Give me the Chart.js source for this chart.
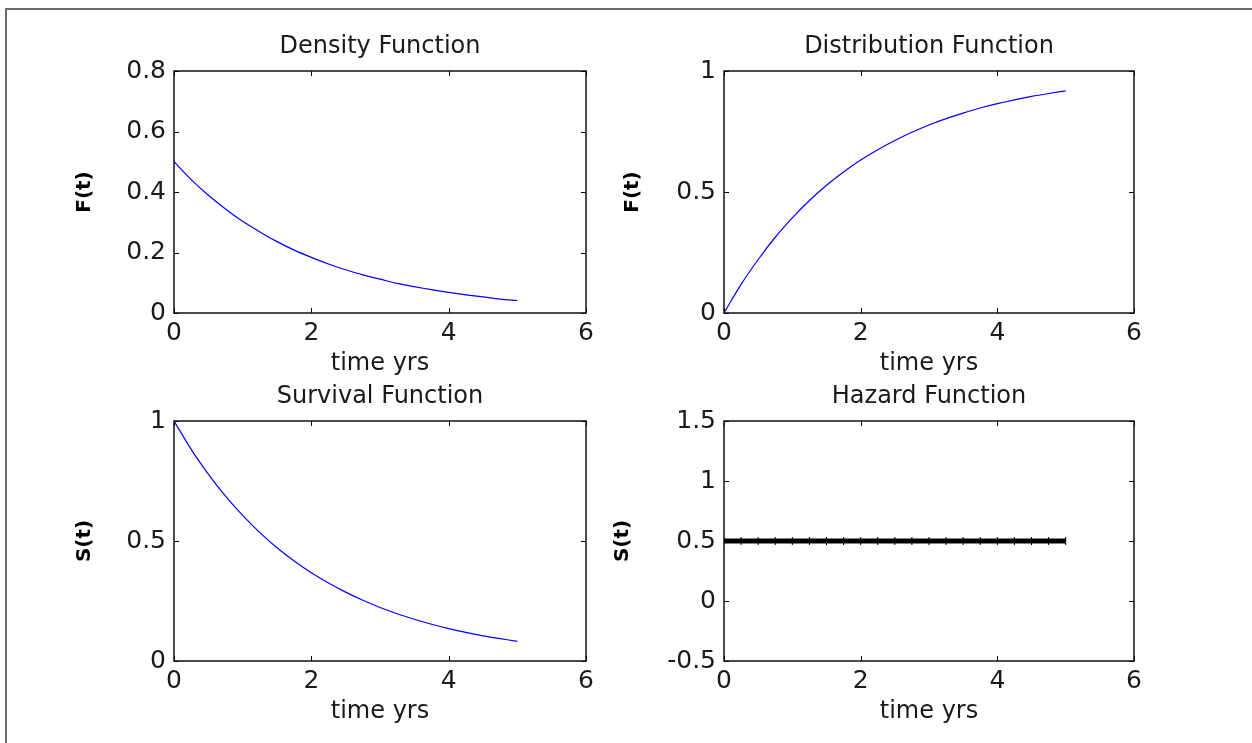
<!DOCTYPE html>
<html>
<head>
<meta charset="utf-8">
<script src="https://cdn.jsdelivr.net/npm/chart.js@4/dist/chart.umd.min.js"></script>
<style>
  html, body { margin:0; padding:0; background:#fff; overflow:hidden; }
  body { width:1252px; height:743px; position:relative; }
  #frame { position:absolute; left:5px; top:8px; width:1260px; height:760px;
           border-top:2px solid #6e6e6e; border-left:2px solid #6e6e6e; }
  canvas { position:absolute; }
</style>
</head>
<body>
<div id="frame"></div>
<canvas id="c1" width="652" height="367" style="left:54px;top:21px"></canvas>
<canvas id="c2" width="650" height="367" style="left:604px;top:21px"></canvas>
<canvas id="c3" width="652" height="365" style="left:54px;top:371px"></canvas>
<canvas id="c4" width="650" height="365" style="left:604px;top:371px"></canvas>
<script>
// ---- data ----
const timeYrs = [0,0.25,0.5,0.75,1,1.25,1.5,1.75,2,2.25,2.5,2.75,3,3.25,3.5,3.75,4,4.25,4.5,4.75,5];
const densityVals = [0.5,0.441,0.389,0.344,0.303,0.268,0.236,0.208,0.184,0.162,0.143,0.126,0.112,0.098,0.087,0.077,0.068,0.060,0.053,0.046,0.041];
const distributionVals = [0,0.118,0.221,0.313,0.393,0.465,0.528,0.583,0.632,0.675,0.713,0.747,0.777,0.803,0.826,0.847,0.865,0.881,0.895,0.907,0.918];
const survivalVals = [1,0.882,0.779,0.687,0.607,0.535,0.472,0.417,0.368,0.325,0.287,0.253,0.223,0.197,0.174,0.153,0.135,0.119,0.105,0.093,0.082];
const hazardVals = [0.5,0.5,0.5,0.5,0.5,0.5,0.5,0.5,0.5,0.5,0.5,0.5,0.5,0.5,0.5,0.5,0.5,0.5,0.5,0.5,0.5];
const xTicks = [0,2,4,6];
const densityTicks = [0,0.2,0.4,0.6,0.8];
const distTicks = [0,0.5,1];
const survTicks = [0,0.5,1];
const hazardTicks = [-0.5,0,0.5,1,1.5];
const titles = ['Density Function','Distribution Function','Survival Function','Hazard Function'];
const yLabels = ['F(t)','F(t)','S(t)','S(t)'];
const xLabel = 'time yrs';

Chart.defaults.font.family = '"DejaVu Sans", "Liberation Sans", Arial, sans-serif';
Chart.defaults.color = '#1a1a1a';

const frameTicks = {
  id: 'frameTicks',
  afterDatasetsDraw(chart) {
    const {ctx, chartArea:{left, top, right, bottom}, scales:{x, y}} = chart;
    ctx.save();
    ctx.strokeStyle = '#000';
    ctx.lineWidth = 1;
    ctx.beginPath();
    x.ticks.forEach(t => {
      const px = Math.round(x.getPixelForValue(t.value)) + 0.5;
      ctx.moveTo(px, bottom); ctx.lineTo(px, bottom - 5);
      ctx.moveTo(px, top); ctx.lineTo(px, top + 5);
    });
    y.ticks.forEach(t => {
      const py = Math.round(y.getPixelForValue(t.value)) + 0.5;
      ctx.moveTo(left, py); ctx.lineTo(left + 5, py);
      ctx.moveTo(right, py); ctx.lineTo(right - 5, py);
    });
    ctx.stroke();
    ctx.lineWidth = 1.5;
    ctx.strokeStyle = '#111';
    ctx.strokeRect(left, top, right - left, bottom - top);
    ctx.restore();
  }
};

function makeChart(id, idx, values, yTicks, color, lineW, ylabPad, pointOpts) {
  const ymin = yTicks[0], ymax = yTicks[yTicks.length - 1];
  return new Chart(document.getElementById(id), {
    type: 'line',
    data: {
      datasets: [{
        data: timeYrs.map((t, i) => ({x: t, y: values[i]})),
        borderColor: color,
        backgroundColor: color,
        borderWidth: lineW,
        tension: 0.3,
        fill: false,
        yAxisID: 'y',
        ...pointOpts
      }]
    },
    options: {
      responsive: false,
      animation: false,
      layout: { padding: 0 },
      plugins: {
        legend: { display: false },
        tooltip: { enabled: false },
        title: {
          display: true,
          text: titles[idx],
          color: '#1a1a1a',
          font: { size: 24, weight: 'normal', lineHeight: 1.2 },
          padding: { top: 11.5, bottom: 9.7 }
        }
      },
      scales: {
        x: {
          type: 'linear', min: 0, max: 6,
          afterBuildTicks: s => { s.ticks = xTicks.map(v => ({value: v})); },
          afterFit: s => { s.height = 75; },
          grid: { display: false, drawTicks: false },
          border: { display: false },
          ticks: { font: { size: 25 }, padding: 5, maxRotation: 0, color: '#1a1a1a',
                   callback: v => String(v) },
          title: { display: true, text: xLabel, color: '#1a1a1a',
                   font: { size: 24, lineHeight: 1.2 }, padding: { top: 0, bottom: 10 } }
        },
        y: {
          type: 'linear', position: 'left', min: ymin, max: ymax,
          afterBuildTicks: s => { s.ticks = yTicks.map(v => ({value: v})); },
          afterFit: s => { s.width = 120; },
          grid: { display: false, drawTicks: false },
          border: { display: false },
          ticks: { font: { size: 25 }, padding: 8, color: '#1a1a1a',
                   callback: v => String(v) },
          title: { display: true, text: yLabels[idx], color: '#000',
                   font: { size: 20, weight: 'bold', lineHeight: 1.2 }, padding: { top: ylabPad, bottom: 0 } }
        },
        yRight: {
          type: 'linear', position: 'right', min: ymin, max: ymax,
          afterFit: s => { s.width = 120; },
          grid: { display: false, drawTicks: false },
          border: { display: false },
          ticks: { display: false }
        }
      }
    },
    plugins: [frameTicks]
  });
}

const noPts = { pointRadius: 0 };
makeChart('c1', 0, densityVals, densityTicks, '#0000ff', 1.2, 19, noPts);
makeChart('c2', 1, distributionVals, distTicks, '#0000ff', 1.2, 17, noPts);
makeChart('c3', 2, survivalVals, survTicks, '#0000ff', 1.2, 19, noPts);
makeChart('c4', 3, hazardVals, hazardTicks, '#000000', 5, 7,
  { pointRadius: 4, pointStyle: 'line', rotation: 90, pointBorderWidth: 1, tension: 0 });
</script>
</body>
</html>
